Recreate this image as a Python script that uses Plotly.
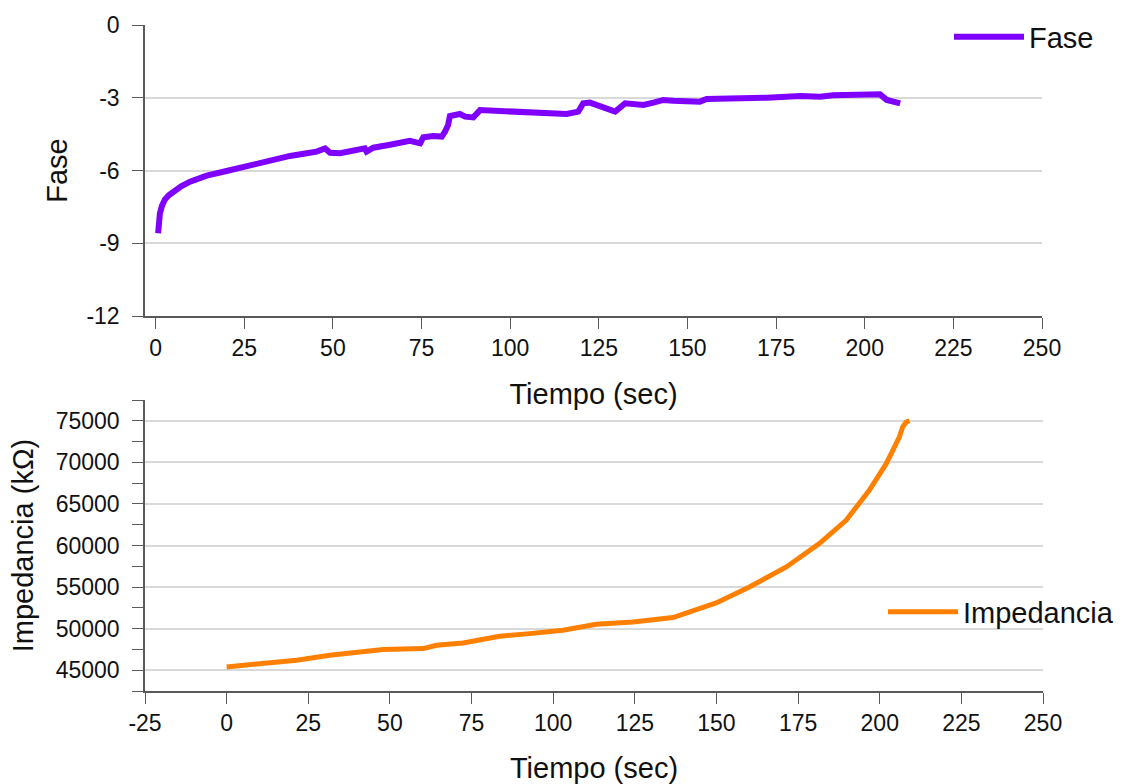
import plotly.graph_objects as go

# ---- data ----
fase_t = [0.7, 0.9, 1.2, 1.8, 2.6, 3.7, 5.0, 7.2, 9.7, 12.0, 14.4, 19.1, 23.8, 28.5, 33.2, 37.9,
          42.6, 45.4, 47.8, 49.2, 52.0, 56.7, 59.0, 59.5, 61.4, 66.1, 70.8, 71.7, 74.6, 75.5,
          78.3, 80.7, 81.6, 82.5, 83.0, 85.8, 87.3, 89.6, 91.5, 99.0, 108.4, 115.9, 119.2,
          120.6, 122.5, 126.3, 129.6, 132.4, 137.6, 140.4, 143.2, 146.0, 149.8, 153.5, 155.4,
          162.9, 172.4, 181.8, 187.4, 191.1, 200.6, 204.3, 206.2, 208.1, 210.0]
fase_v = [-8.59, -8.20, -7.77, -7.45, -7.20, -7.02, -6.87, -6.65, -6.46, -6.32, -6.21, -6.05,
          -5.88, -5.73, -5.57, -5.40, -5.29, -5.22, -5.09, -5.27, -5.29, -5.18, -5.09, -5.22,
          -5.06, -4.94, -4.84, -4.78, -4.88, -4.63, -4.58, -4.60, -4.40, -4.12, -3.75, -3.67,
          -3.78, -3.81, -3.51, -3.57, -3.62, -3.67, -3.57, -3.23, -3.20, -3.37, -3.57, -3.23,
          -3.30, -3.20, -3.09, -3.12, -3.16, -3.16, -3.05, -3.04, -3.00, -2.93, -2.96, -2.90,
          -2.89, -2.86, -3.09, -3.19, -3.23]

imp_t = [0.0, 11.2, 21.4, 31.6, 41.8, 47.9, 60.2, 64.3, 72.4, 80.6, 83.6, 92.8, 103.0, 113.2,
         124.4, 136.7, 149.9, 160.1, 171.4, 181.5, 189.7, 196.8, 202.0, 206.0, 207.0, 208.1, 209.1]
imp_v = [45400, 45800, 46200, 46800, 47200, 47480, 47600, 48000, 48280, 48800, 49090, 49400,
         49800, 50530, 50800, 51330, 53090, 55010, 57420, 60230, 63030, 66630, 69840, 73040,
         74240, 74840, 75000]

fase_ticks = [0, -3, -6, -9, -12]
fase_labels = ["0", "-3", "-6", "-9", "-12"]
imp_ticks = [45000, 50000, 55000, 60000, 65000, 70000, 75000]
imp_labels = ["45000", "50000", "55000", "60000", "65000", "70000", "75000"]
time_ticks_top = [0, 25, 50, 75, 100, 125, 150, 175, 200, 225, 250]
time_ticks_bot = [-25, 0, 25, 50, 75, 100, 125, 150, 175, 200, 225, 250]
time_labels_bot = ["-25", "0", "25", "50", "75", "100", "125", "150", "175", "200", "225", "250"]

W, H = 1130, 784
FONT = "Liberation Sans, Arial, sans-serif"
AX = "#595959"
GRID = "#d9d9d9"

def px_x(p):
    return p / W

def px_y(p):
    return 1 - p / H

fig = go.Figure()
fig.add_trace(go.Scatter(x=fase_t, y=fase_v, mode="lines", name="Fase",
                         line=dict(color="#7F00FF", width=6), xaxis="x", yaxis="y",
                         legend="legend"))
fig.add_trace(go.Scatter(x=imp_t, y=imp_v, mode="lines", name="Impedancia",
                         line=dict(color="#FF8000", width=5), xaxis="x2", yaxis="y2",
                         legend="legend2"))

tickfont = dict(family=FONT, size=23, color="#111")
titlefont = dict(family=FONT, size=29, color="#111")

common = dict(automargin=False, zeroline=False, showline=True, linecolor=AX, linewidth=1.5,
              ticks="outside", ticklen=11, tickcolor=AX, tickfont=tickfont)

fig.update_layout(
    width=W, height=H,
    margin=dict(l=0, r=0, t=0, b=0, autoexpand=False),
    paper_bgcolor="white", plot_bgcolor="white",
    font=dict(family=FONT),
    xaxis=dict(domain=[px_x(145), px_x(1042)], range=[-3, 250], tickvals=time_ticks_top,
               showgrid=False,
               title=dict(text="Tiempo (sec)", font=titlefont, standoff=23),
               anchor="y", **common),
    yaxis=dict(domain=[px_y(316), px_y(25)], range=[-12, 0], tickvals=fase_ticks,
               ticktext=fase_labels,
               showgrid=True, gridcolor=GRID, gridwidth=1.5, ticklabelstandoff=8,
               title=dict(text="Fase", font=titlefont, standoff=10),
               anchor="x", **common),
    xaxis2=dict(domain=[px_x(145), px_x(1043)], range=[-25, 250], tickvals=time_ticks_bot,
                ticktext=time_labels_bot, showgrid=False,
                title=dict(text="Tiempo (sec)", font=titlefont, standoff=25),
                anchor="y2", **common),
    yaxis2=dict(domain=[px_y(691), px_y(400)], range=[42500, 77500], tickvals=imp_ticks,
                ticktext=imp_labels,
                showgrid=True, gridcolor=GRID, gridwidth=1.5, ticklabelstandoff=8,
                minor=dict(dtick=2500, tick0=0, ticks="outside", ticklen=11, tickcolor=AX,
                           showgrid=False),
                title=dict(text="Impedancia (kΩ)", font=titlefont, standoff=14),
                anchor="x2", **common),
    legend=dict(x=px_x(949), y=px_y(37), xanchor="left", yanchor="middle",
                font=dict(family=FONT, size=29, color="#111"), bgcolor="rgba(0,0,0,0)",
                itemwidth=70),
    legend2=dict(x=px_x(883), y=px_y(612), xanchor="left", yanchor="middle",
                 font=dict(family=FONT, size=29, color="#111"), bgcolor="rgba(0,0,0,0)",
                 itemwidth=70),
    showlegend=True,
)

fig.write_html("out.html")
